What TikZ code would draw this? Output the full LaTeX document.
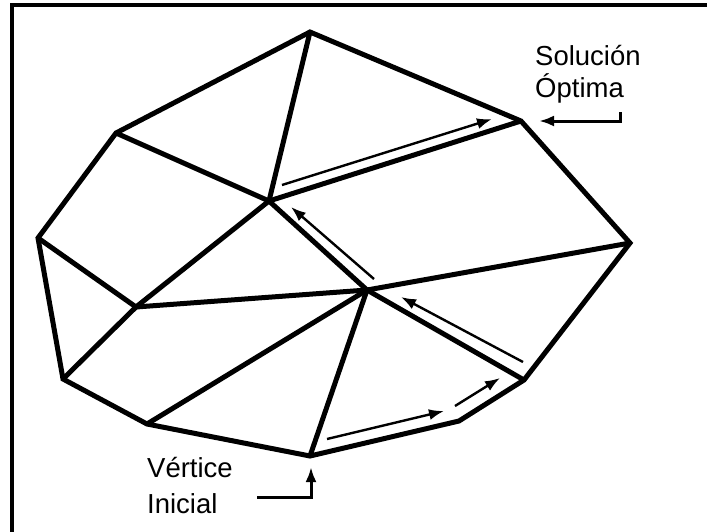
\documentclass[tikz,border=0pt]{standalone}
\usepackage{fontspec}
\setmainfont{Liberation Sans}
\usetikzlibrary{arrows.meta}

\tikzset{
	edge/.style={line width=5pt},
	path/.style={line width=2.4pt,-{Latex[length=15pt,width=11pt]}},
	callout/.style={line width=3pt,-{Latex[length=15pt,width=11pt]}},
	lbl/.style={inner sep=0pt,anchor=base west,font=\fontsize{27.5}{30}\selectfont}
}

\begin{document}
\begin{tikzpicture}[x=1pt,y=-1pt]
	\useasboundingbox (0,0) rectangle (707,531);
	\clip (0,0) rectangle (707,531);
	\draw[line width=3.5pt] (12,540) -- (12,5) -- (720,5);

	% vertices of the polytope
	\coordinate (t) at (310,32);
	\coordinate (a) at (116,133);
	\coordinate (l) at (38,238);
	\coordinate (b) at (63,379);
	\coordinate (c) at (147,424);
	\coordinate (v0) at (310,456);
	\coordinate (d) at (459,421);
	\coordinate (e) at (524,380);
	\coordinate (r) at (630,243);
	\coordinate (s) at (521,121);
	\coordinate (p1) at (269,201);
	\coordinate (p2) at (136,307);
	\coordinate (p3) at (367,290);

	\draw[edge] (t) -- (a) -- (l) -- (b) -- (c) -- (v0) -- (d) -- (e) -- (r) -- (s) -- cycle;

	\draw[edge] (t) -- (p1);
	\draw[edge] (a) -- (p1);
	\draw[edge] (p1) -- (s);
	\draw[edge] (p1) -- (p2);
	\draw[edge] (p1) -- (p3);
	\draw[edge] (l) -- (p2);
	\draw[edge] (p2) -- (p3);
	\draw[edge] (p2) -- (b);
	\draw[edge] (p3) -- (r);
	\draw[edge] (p3) -- (c);
	\draw[edge] (p3) -- (v0);
	\draw[edge] (p3) -- (e);

	% simplex path
	\coordinate (q1) at (327,439);
	\coordinate (q2) at (444,411);
	\coordinate (q3) at (455,406);
	\coordinate (q4) at (500,378);
	\coordinate (q5) at (523,362);
	\coordinate (q6) at (401,297);
	\coordinate (q7) at (374,279);
	\coordinate (q8) at (291,207);
	\coordinate (q9) at (282,185);
	\coordinate (q10) at (492,119);

	\draw[path] (q1) -- (q2);
	\draw[path] (q3) -- (q4);
	\draw[path] (q5) -- (q6);
	\draw[path] (q7) -- (q8);
	\draw[path] (q9) -- (q10);

	% labels
	\node[lbl] (sol) at (535,65) {Solución};
	\node[lbl] (opt) at (535,97) {Óptima};
	\node[lbl] (ver) at (147,477) {Vértice};
	\node[lbl] (ini) at (147,513) {Inicial};

	\coordinate (k1) at (620,112);
	\coordinate (k2) at (620,121);
	\coordinate (k3) at (539,121);
	\draw[callout] (k1) -- (k2) -- (k3);

	\coordinate (m1) at (257,497);
	\coordinate (m2) at (311,497);
	\coordinate (m3) at (311,467);
	\draw[callout] (m1) -- (m2) -- (m3);
\end{tikzpicture}
\end{document}
